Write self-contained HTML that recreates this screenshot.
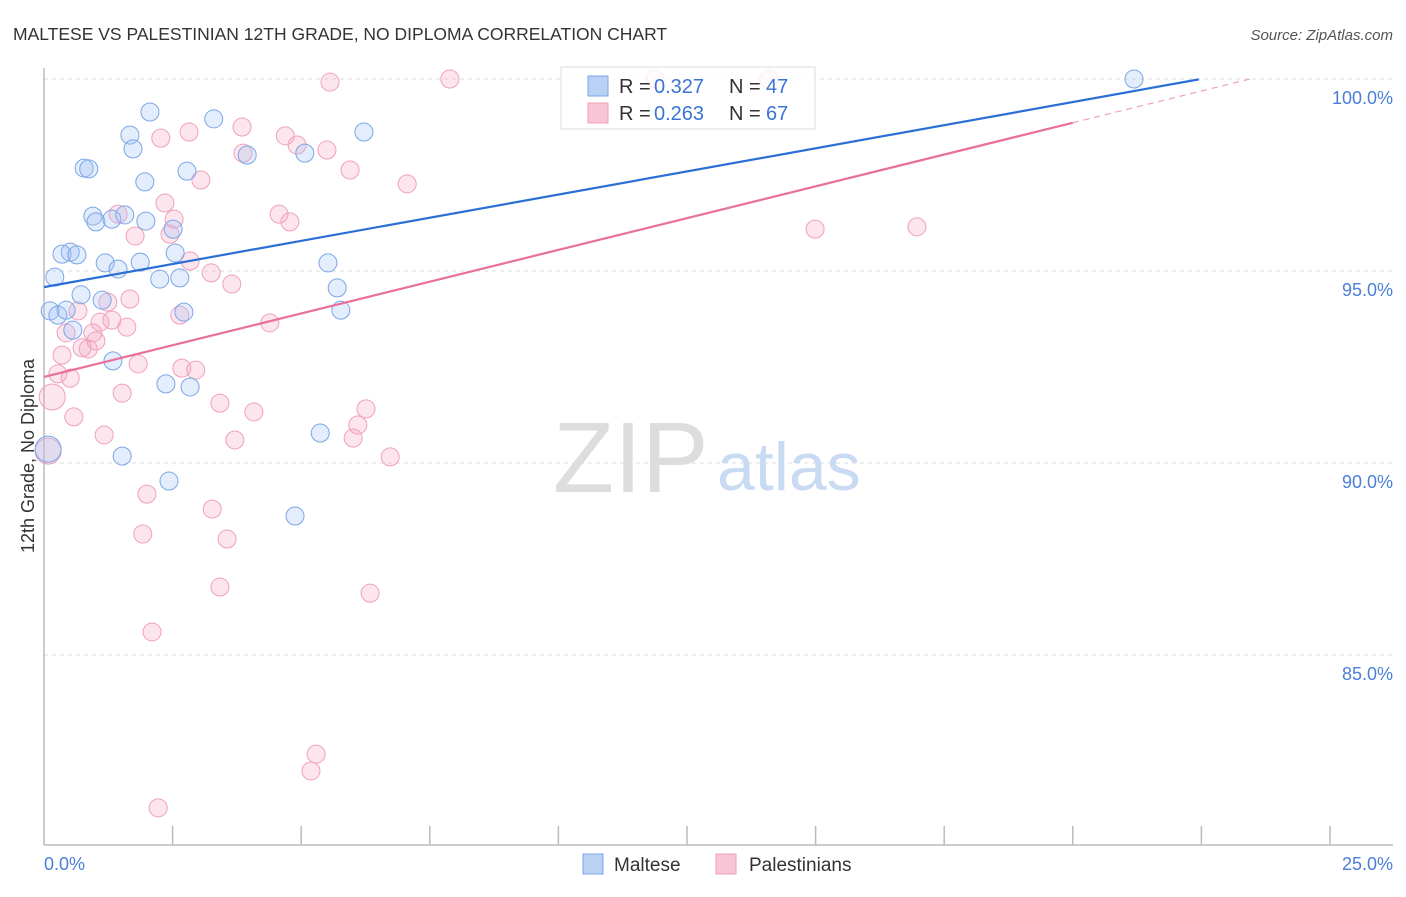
<!DOCTYPE html>
<html><head><meta charset="utf-8"><style>
body{margin:0;background:#fff;font-family:"Liberation Sans",sans-serif}
svg text{font-family:"Liberation Sans",sans-serif}
</style></head><body>
<svg id="chart" width="1406" height="892" xmlns="http://www.w3.org/2000/svg">
<text x="13" y="40" font-size="17.5" fill="#333">MALTESE VS PALESTINIAN 12TH GRADE, NO DIPLOMA CORRELATION CHART</text>
<text x="1393" y="40" font-size="15" fill="#555" text-anchor="end" font-style="italic">Source: ZipAtlas.com</text>
<g id="grid"></g>
<text x="553" y="492" font-size="100" fill="#ddd" font-family="Liberation Serif,serif">ZIP</text>
<text x="717" y="490" font-size="68" fill="#c9dbf3">atlas</text>
<g id="axes"></g>
<g id="pts"></g>
<g id="lines"></g>
<text transform="translate(34,456) rotate(-90)" font-size="18" fill="#333" text-anchor="middle">12th Grade, No Diploma</text>
<g>
<rect x="561" y="67" width="254" height="62" fill="#fff" fill-opacity="0.8" stroke="#ddd"/>
<rect x="588" y="76" width="20" height="20" fill="#b9d1f3" stroke="#7aa6e6"/>
<rect x="588" y="103" width="20" height="20" fill="#f8c5d5" stroke="#f0a0bc"/>
<text x="619" y="93" font-size="20" fill="#333">R =</text><text x="654" y="93" font-size="20" fill="#3a74d4">0.327</text>
<text x="729" y="93" font-size="20" fill="#333">N =</text><text x="766" y="93" font-size="20" fill="#3a74d4">47</text>
<text x="619" y="120" font-size="20" fill="#333">R =</text><text x="654" y="120" font-size="20" fill="#3a74d4">0.263</text>
<text x="729" y="120" font-size="20" fill="#333">N =</text><text x="766" y="120" font-size="20" fill="#3a74d4">67</text>
</g>
<g>
<rect x="583" y="854" width="20" height="20" fill="#b9d1f3" stroke="#7aa6e6"/>
<text x="614" y="871" font-size="19" fill="#333">Maltese</text>
<rect x="716" y="854" width="20" height="20" fill="#f8c5d5" stroke="#f0a0bc"/>
<text x="749" y="871" font-size="19" fill="#333">Palestinians</text>
</g>
</svg>
<script>
const maltX=[0.21,0.12,0.27,0.43,0.56,0.72,0.78,0.87,0.95,1.01,0.51,0.35,0.64,1.13,1.19,1.32,1.44,1.34,1.52,1.57,1.67,1.73,1.87,1.96,1.98,2.06,2.25,2.37,2.43,2.51,2.55,2.64,2.72,2.78,2.84,3.30,3.95,5.07,4.88,5.37,5.52,5.70,5.77,6.22,21.19,0.08];
const maltY=[94.84,93.96,93.85,93.98,93.46,94.38,97.68,97.66,96.43,96.28,95.49,95.44,95.42,94.24,95.21,96.35,95.05,92.66,90.18,96.46,98.54,98.18,95.23,97.32,96.30,99.14,94.79,92.06,89.53,96.09,95.47,94.82,93.93,97.60,91.98,98.96,98.02,98.07,88.62,90.78,95.21,94.56,93.98,98.62,100,90.36];
const palX=[0.08,0.16,0.27,0.35,0.43,0.51,0.58,0.66,0.74,0.86,0.95,1.01,1.09,1.17,1.24,1.32,1.44,1.52,1.61,1.67,1.77,1.83,1.92,2.00,2.10,2.22,2.27,2.35,2.45,2.53,2.64,2.68,2.82,2.84,2.95,3.05,3.25,3.27,3.42,3.56,3.65,3.71,3.42,3.85,3.87,4.08,4.39,4.57,4.69,4.78,4.92,5.19,5.29,5.50,5.56,5.95,6.01,6.10,6.26,6.34,6.73,7.06,7.89,11.88,14.09,14.99,16.97];
const palY=[90.31,91.72,92.32,92.81,93.39,92.21,91.20,93.96,93.0,92.97,93.39,93.18,93.67,90.73,94.19,93.72,96.48,91.82,93.54,94.27,95.91,92.58,88.15,89.19,85.60,81.02,98.46,96.77,95.96,96.35,93.85,92.47,98.62,95.26,92.42,97.37,94.95,88.80,91.56,88.02,94.66,90.60,86.77,98.75,98.07,91.33,93.65,96.48,98.52,96.28,98.28,81.98,82.42,98.15,99.92,97.63,90.65,90.99,91.41,86.61,90.16,97.27,100,100,100,96.09,96.15];
const yTicks=[100,95,90,85];
const yTickLabels=["100.0%","95.0%","90.0%","85.0%"];
const maltTrend=[94.58,0.241];
const palTrend=[92.24,0.331];
const NS="http://www.w3.org/2000/svg";
const X=v=>44+v*51.44, Y=v=>79+(100-v)*38.4;
function mk(p,t,a){const e=document.createElementNS(NS,t);for(const k in a)e.setAttribute(k,a[k]);p.appendChild(e);return e;}
const grid=document.getElementById('grid'),axes=document.getElementById('axes'),pts=document.getElementById('pts'),lines=document.getElementById('lines');
yTicks.forEach((t,i)=>{
 const l=mk(grid,'line',{x1:44,x2:1393,y1:Y(t),y2:Y(t),stroke:'#ddd','stroke-dasharray':'4,4'});
 
 
 const tx=mk(axes,'text',{x:1393,y:Y(t)+25,'font-size':18,fill:'#4a7fd6','text-anchor':'end'});
 tx.textContent=yTickLabels[i];
 
 
});
mk(axes,'line',{x1:44,x2:44,y1:68,y2:845,stroke:'#bbb','stroke-width':1.5});
mk(axes,'line',{x1:44,x2:1393,y1:845,y2:845,stroke:'#bbb','stroke-width':1.5});
for(let i=1;i<=10;i++){const t=mk(axes,'line',{x1:X(i*2.5),x2:X(i*2.5),y1:826,y2:845,stroke:'#bbb','stroke-width':1.5});
 
 }
let a=mk(axes,'text',{x:44,y:870,'font-size':18,fill:'#4a7fd6'});a.textContent='0.0%';


a=mk(axes,'text',{x:1393,y:870,'font-size':18,fill:'#4a7fd6','text-anchor':'end'});a.textContent='25.0%';


palX.forEach((x,i)=>{const c=mk(pts,'circle',{cx:X(x),cy:Y(palY[i]),r:i<2?13:9,fill:'rgba(244,170,195,0.3)',stroke:'#f0a0bc','stroke-width':1});
 
 });
maltX.forEach((x,i)=>{const c=mk(pts,'circle',{cx:X(x),cy:Y(maltY[i]),r:i==45?13:9,fill:'rgba(164,194,244,0.3)',stroke:'#7aa6e6','stroke-width':1});
 
 });
let l=mk(lines,'line',{x1:X(0),y1:Y(maltTrend[0]),x2:X(22.45),y2:Y(maltTrend[0]+maltTrend[1]*22.45),stroke:'#2a6fd6','stroke-width':2.2});


l=mk(lines,'line',{x1:X(0),y1:Y(palTrend[0]),x2:X(20),y2:Y(palTrend[0]+palTrend[1]*20),stroke:'#e8709a','stroke-width':2.2});


l=mk(lines,'line',{x1:X(20),y1:Y(palTrend[0]+palTrend[1]*20),x2:X(23.45),y2:Y(palTrend[0]+palTrend[1]*23.45),stroke:'#f0a0bc','stroke-width':1.2,'stroke-dasharray':'6,5'});


</script>
</body></html>
